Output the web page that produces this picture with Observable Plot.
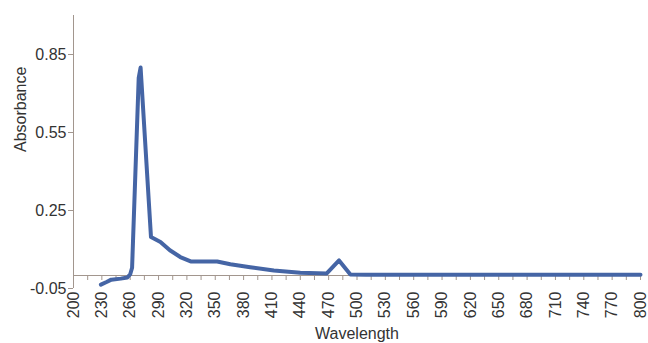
<!DOCTYPE html>
<html><head><meta charset="utf-8">
<script src="https://cdn.jsdelivr.net/npm/d3@7"></script>
<script src="https://cdn.jsdelivr.net/npm/@observablehq/plot@0.6"></script>
<style>body{margin:0;background:#fff}</style>
</head><body><div id="chart"></div>
<script>
const wavelength = [229, 235, 240, 250, 257, 260, 262, 269, 271, 282, 292, 302, 313, 324, 352, 366, 387, 412, 440, 468, 481, 493, 510, 600, 700, 800];
const absorbance = [-0.035, -0.025, -0.016, -0.012, -0.008, 0.005, 0.03, 0.76, 0.80, 0.148, 0.129, 0.097, 0.071, 0.054, 0.054, 0.043, 0.032, 0.019, 0.011, 0.008, 0.058, 0.004, 0.003, 0.003, 0.003, 0.003];
const xTickLabels = d3.range(200, 801, 30);
const xTickMarks = d3.range(215, 801, 15);
const yTickLabels = [-0.05, 0.25, 0.55, 0.85];
const xTitle = "Wavelength";
const yTitle = "Absorbance";

const data = wavelength.map((w, i) => ({w, a: absorbance[i]}));
const axisColor = "#a2968e";

const chart = Plot.plot({
  width: 648, height: 343,
  marginLeft: 73, marginRight: 8, marginTop: 15, marginBottom: 55,
  style: {fontFamily: "'Liberation Sans', Arial, sans-serif", fontSize: "16px", color: "#333", background: "#fff"},
  x: {domain: [200, 800]},
  y: {domain: [-0.05, 1.0]},
  marks: [
    Plot.axisY(yTickLabels, {tickSize: 5, tickPadding: 2, stroke: axisColor, fill: "#333", tickFormat: d => d.toFixed(2), label: null}),
    Plot.axisX(xTickLabels, {anchor: "bottom", tickSize: 0, tickRotate: -90, tickPadding: 3, fill: "#333", label: null}),
    Plot.ruleX([200], {stroke: axisColor}),
    Plot.ruleY([0], {stroke: axisColor}),
    Plot.ruleX(xTickMarks, {y1: 0, y2: 0, insetBottom: -5, stroke: axisColor}),
    Plot.line(data, {x: "w", y: "a", stroke: "#4565a5", strokeWidth: 4, strokeLinejoin: "round", strokeLinecap: "round"}),
    Plot.text([xTitle], {frameAnchor: "bottom", lineAnchor: "bottom", dy: 50, fill: "#333", fontSize: 16}),
    Plot.text([yTitle], {frameAnchor: "left", rotate: -90, dx: -53, fill: "#333", fontSize: 16})
  ]
});
document.getElementById("chart").append(chart);
</script>
</body></html>
